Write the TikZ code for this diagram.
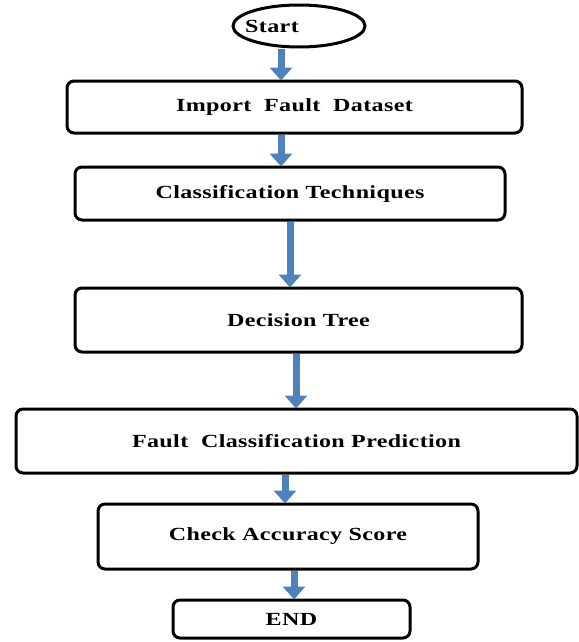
\documentclass[tikz,border=0pt]{standalone}
\usepackage{fontspec}
\setmainfont{Liberation Serif}
\newfontfamily\wideserif[FakeStretch=1.3,LetterSpace=2]{Liberation Serif}
\usetikzlibrary{shapes.geometric,arrows.meta}
\definecolor{arrblue}{RGB}{79,129,189}
\tikzset{
  box/.style={draw=black, line width=3pt, rounded corners=7pt, fill=white, inner sep=0pt,
    font=\wideserif\bfseries\fontsize{18.5}{22}\selectfont},
  startshape/.style={draw=black, line width=3pt, ellipse, inner sep=0pt,
    minimum width=132pt, minimum height=42pt,
    font=\wideserif\bfseries\fontsize{18.5}{22}\selectfont},
  arr/.style={draw=arrblue, line width=7pt, -{Triangle[width=22pt,length=13pt]}, shorten >=-1pt}
}
\begin{document}
\begin{tikzpicture}[x=1pt,y=-1pt]
\useasboundingbox (0,0) rectangle (578,642);
\node[startshape] (st) at (299,26) {\makebox[0pt][c]{\hspace*{-54pt}Start}};
\node[box, minimum width=455pt, minimum height=52pt] (b1) at (294.5,107) {Import\ \ Fault\ \ Dataset};
\node[box, minimum width=430pt, minimum height=53pt] (b2) at (290,193.5) {Classification Techniques};
\node[box, minimum width=447pt, minimum height=64pt] (b3) at (298.5,320) {Decision Tree};
\node[box, minimum width=561pt, minimum height=64pt] (b4) at (296.5,441) {Fault\ \ Classification Prediction};
\node[box, minimum width=380pt, minimum height=65pt] (b5) at (288,536.5) {Check\ Accuracy\ Score};
\node[box, minimum width=237pt, minimum height=38pt] (b6) at (291.5,619) {END};
\draw[arr] (281,49) -- (281,0 |- b1.north);
\draw[arr] (281,0 |- b1.south) -- (281,0 |- b2.north);
\draw[arr] (290,0 |- b2.south) -- (290,0 |- b3.north);
\draw[arr] (296,0 |- b3.south) -- (296,0 |- b4.north);
\draw[arr] (285,0 |- b4.south) -- (285,0 |- b5.north);
\draw[arr] (294,0 |- b5.south) -- (294,0 |- b6.north);
\end{tikzpicture}
\end{document}
